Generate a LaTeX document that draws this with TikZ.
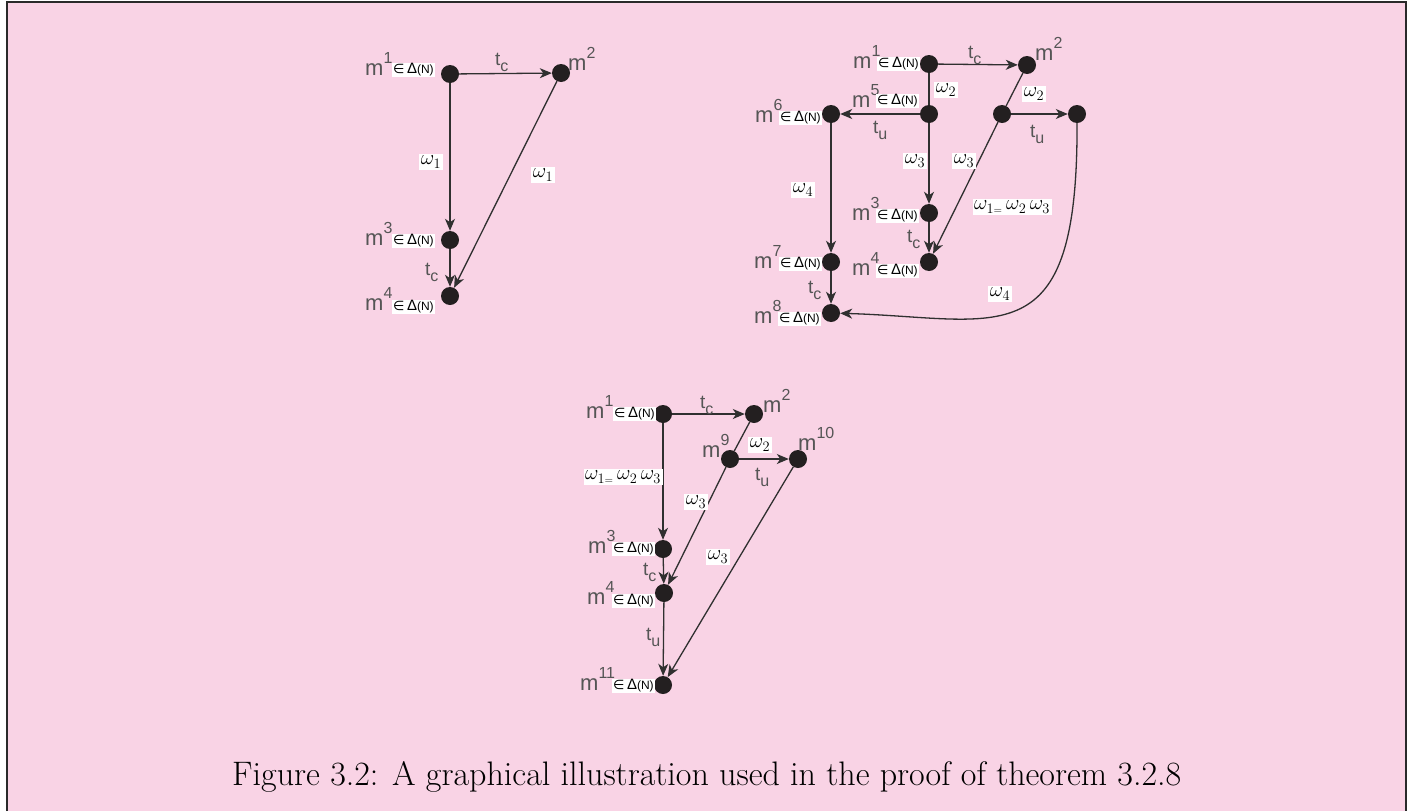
\documentclass[tikz,border=0pt]{standalone}
\usepackage{fontspec}
\usetikzlibrary{arrows.meta}
\newfontfamily\labf{Liberation Sans}
\newfontfamily\dvf{DejaVu Sans}
\definecolor{bgc}{HTML}{F9D3E5}
\definecolor{framec}{HTML}{2A2A2A}
\definecolor{dotc}{HTML}{231F20}
\definecolor{linec}{HTML}{303030}
\definecolor{labc}{HTML}{555555}
\newcommand\mlb[1]{m\raisebox{12pt}{\fontsize{16}{16}\selectfont #1}}
\newcommand\dnl{{\dvf\fontsize{13}{13}\selectfont ∈}\,Δ{\fontsize{12}{12}\selectfont(N)}}
\newcommand\tlb[1]{t\raisebox{-6pt}{\fontsize{16}{16}\selectfont #1}}
\tikzset{
  dot/.style={circle, fill=dotc, inner sep=0pt, minimum size=18pt},
  mlab/.style={inner sep=0pt, text=labc, font=\labf\fontsize{22}{22}\selectfont, anchor=base west},
  dlab/.style={fill=white, inner xsep=1pt, inner ysep=0.8pt, text=black, font=\labf\fontsize{15}{15}\selectfont, anchor=west},
  wlab/.style={fill=white, inner xsep=1.5pt, inner ysep=2pt, text=black, font=\fontsize{22}{22}\selectfont},
  tlab/.style={inner sep=0pt, text=labc, font=\labf\fontsize{19}{19}\selectfont, anchor=base west},
  arr/.style={draw=linec, line width=1.3pt, -{Stealth[length=12pt,width=10pt,inset=3.5pt]}},
  seg/.style={draw=linec, line width=1.3pt},
}
\begin{document}
\begin{tikzpicture}[x=1pt,y=-1pt]
\useasboundingbox (0,0) rectangle (1426,811);
\fill[bgc] (7,2) rectangle (1406,811);
\draw[framec, line width=1.5pt] (7,811) -- (7,2) -- (1406,2) -- (1406,811);

% ---------- diagram 1 ----------
\node[dot] (a1) at (450,74) {};
\node[dot] (a2) at (561,73) {};
\node[dot] (a3) at (450,240) {};
\node[dot] (a4) at (450,296) {};
\draw[arr] (a1) -- (a2);
\draw[arr] (a1) -- (a3);
\draw[arr] (a3) -- (a4);
\draw[arr] (a2) -- (a4);
\node[mlab] (a1m) at (365,75) {\mlb{1}};
\node[dlab] (a1d) at (392,70) {\dnl};
\node[mlab] (a2m) at (568,70) {\mlb{2}};
\node[mlab] (a3m) at (365,245) {\mlb{3}};
\node[dlab] (a3d) at (392,241) {\dnl};
\node[mlab] (a4m) at (365,310) {\mlb{4}};
\node[dlab] (a4d) at (392,307) {\dnl};
\node[tlab] (a12t) at (495,65) {\tlb{c}};
\node[tlab] (a34t) at (425,275) {\tlb{c}};
\node[wlab] (a13w) at (431,162) {$\omega_1$};
\node[wlab] (a24w) at (543,175) {$\omega_1$};

% ---------- diagram 2 ----------
\node[dot] (b1) at (929,64) {};
\node[dot] (b2) at (1027,65) {};
\node[dot] (b5) at (929,114) {};
\node[dot] (b6) at (831,114) {};
\node[dot] (b9) at (1002,114) {};
\node[dot] (b10) at (1077,114) {};
\node[dot] (b3) at (929,213) {};
\node[dot] (b4) at (929,262) {};
\node[dot] (b7) at (831,262) {};
\node[dot] (b8) at (831,313) {};
\draw[arr] (b1) -- (b2);
\draw[seg] (b1) -- (b5);
\draw[seg] (b2) -- (b9);
\draw[arr] (b5) -- (b6);
\draw[arr] (b9) -- (b10);
\draw[arr] (b5) -- (b3);
\draw[arr] (b3) -- (b4);
\draw[arr] (b9) -- (b4);
\draw[arr] (b6) -- (b7);
\draw[arr] (b7) -- (b8);
\draw[arr] (b10) .. controls (1078,360) and (1000,318) .. (b8);
\node[mlab] (b1m) at (853,68) {\mlb{1}};
\node[dlab] (b1d) at (877,64) {\dnl};
\node[mlab] (b2m) at (1035,60) {\mlb{2}};
\node[mlab] (b5m) at (852,107) {\mlb{5}};
\node[dlab] (b5d) at (876,101) {\dnl};
\node[mlab] (b6m) at (755,122) {\mlb{6}};
\node[dlab] (b6d) at (779,118) {\dnl};
\node[mlab] (b3m) at (852,220) {\mlb{3}};
\node[dlab] (b3d) at (876,216) {\dnl};
\node[mlab] (b4m) at (852,275) {\mlb{4}};
\node[dlab] (b4d) at (876,271) {\dnl};
\node[mlab] (b7m) at (754,268) {\mlb{7}};
\node[dlab] (b7d) at (779,264) {\dnl};
\node[mlab] (b8m) at (754,323) {\mlb{8}};
\node[dlab] (b8d) at (778,319) {\dnl};
\node[tlab] (b12t) at (968,58) {\tlb{c}};
\node[tlab] (b56t) at (873,133) {\tlb{u}};
\node[tlab] (b910t) at (1030,137) {\tlb{u}};
\node[tlab] (b34t) at (907,242) {\tlb{c}};
\node[tlab] (b78t) at (808,293) {\tlb{c}};
\node[wlab] (b15w) at (946,90) {$\omega_2$};
\node[wlab] (b29w) at (1034,94) {$\omega_2$};
\node[wlab] (b53w) at (915,161) {$\omega_3$};
\node[wlab] (b94w) at (964,161) {$\omega_3$};
\node[wlab] (b1eq) at (1012,207) {$\omega_{1\scriptscriptstyle=}\,\omega_2\,\omega_3$};
\node[wlab] (b67w) at (803,190) {$\omega_4$};
\node[wlab] (b108w) at (1000,294) {$\omega_4$};

% ---------- diagram 3 ----------
\node[dot] (c1) at (663,414) {};
\node[dot] (c2) at (754,414) {};
\node[dot] (c9) at (730,459) {};
\node[dot] (c10) at (798,459) {};
\node[dot] (c3) at (663,549) {};
\node[dot] (c4) at (664,593) {};
\node[dot] (c11) at (663,685) {};
\draw[arr] (c1) -- (c2);
\draw[seg] (c2) -- (c9);
\draw[arr] (c9) -- (c10);
\draw[arr] (c1) -- (c3);
\draw[arr] (c3) -- (c4);
\draw[arr] (c9) -- (c4);
\draw[arr] (c4) -- (c11);
\draw[arr] (c10) -- (c11);
\node[mlab] (c1m) at (586,418) {\mlb{1}};
\node[dlab] (c1d) at (613,414) {\dnl};
\node[mlab] (c2m) at (763,412) {\mlb{2}};
\node[mlab] (c9m) at (702,457) {\mlb{9}};
\node[mlab] (c10m) at (798,450) {\mlb{10}};
\node[mlab] (c3m) at (588,553) {\mlb{3}};
\node[dlab] (c3d) at (612,549) {\dnl};
\node[mlab] (c4m) at (587,604) {\mlb{4}};
\node[dlab] (c4d) at (612,601) {\dnl};
\node[mlab] (c11m) at (580,690) {\mlb{11}};
\node[dlab] (c11d) at (612,686) {\dnl};
\node[tlab] (c12t) at (700,408) {\tlb{c}};
\node[tlab] (c910t) at (755,480) {\tlb{u}};
\node[tlab] (c34t) at (643,575) {\tlb{c}};
\node[tlab] (c411t) at (646,640) {\tlb{u}};
\node[wlab] (c29w) at (760,445) {$\omega_2$};
\node[wlab] (c1eq) at (623,477) {$\omega_{1\scriptscriptstyle=}\,\omega_2\,\omega_3$};
\node[wlab] (c94w) at (696,502) {$\omega_3$};
\node[wlab] (c1011w) at (718,557) {$\omega_3$};

% ---------- caption ----------
\node[inner sep=0pt, anchor=base west, font=\fontsize{34}{38}\selectfont] (cap) at (232,785)
  {Figure 3.2: A graphical illustration used in the proof of theorem 3.2.8};
\end{tikzpicture}
\end{document}
